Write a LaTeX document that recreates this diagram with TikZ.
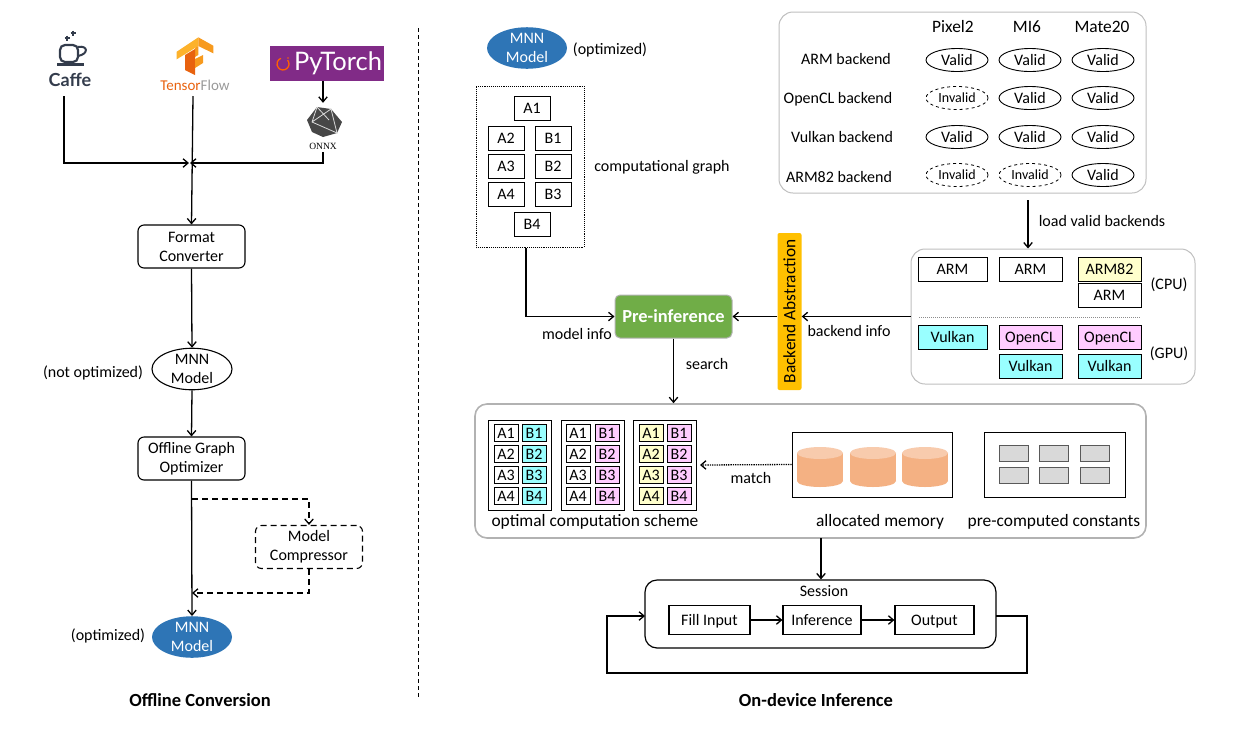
\documentclass[tikz,border=0pt]{standalone}
\usepackage{fontspec}
\usepackage{xcolor}
\setmainfont{Carlito}
\newfontfamily\logofont{Lato}
\newfontfamily\onnxfont{Liberation Serif}
\usetikzlibrary{arrows.meta,shapes.geometric}

\definecolor{cyanbox}{HTML}{99FFFF}
\definecolor{pinkbox}{HTML}{FFCCFF}
\definecolor{yellowbox}{HTML}{FFFFCC}
\definecolor{modelblue}{HTML}{2E75B6}
\definecolor{stepgreen}{HTML}{70AD47}
\definecolor{abstractgold}{HTML}{FFC000}
\definecolor{memorybody}{HTML}{F4B183}
\definecolor{memorytop}{HTML}{F8CBAD}
\definecolor{torchpurple}{HTML}{812B87}
\definecolor{caffeink}{HTML}{333C4C}
\definecolor{tflight}{HTML}{FDB22B}
\definecolor{tfmid}{HTML}{F79A1E}
\definecolor{tfdark}{HTML}{E8620F}

\tikzset{
  >={Straight Barb[length=5pt,width=8.5pt]},
  arrow/.style={->,line width=1.3pt},
  dashline/.style={dash pattern=on 6pt off 4pt},
  label/.style={font=\fontsize{16}{19}\selectfont,inner sep=0pt,text height=10pt,text depth=0pt},
  multiline/.style={font=\fontsize{16}{19}\selectfont,align=center,inner sep=0pt,execute at begin node={\rule{0pt}{13pt}}},
  biglabel/.style={font=\fontsize{17.4}{19}\selectfont,inner sep=0pt,text height=11pt,text depth=0pt},
  titlelabel/.style={font=\fontsize{18.5}{20}\selectfont\bfseries,inner sep=0pt,text height=12pt,text depth=0pt},
  stepbox/.style={draw,line width=1.1pt,rounded corners=6pt,fill=white,minimum width=107pt,minimum height=43pt,multiline},
  modeloval/.style={ellipse,minimum width=80pt,minimum height=40pt,multiline},
  optoval/.style={modeloval,fill=modelblue,text=white},
  opbox/.style={draw,line width=0.9pt,fill=white,minimum width=36pt,minimum height=24pt,label},
  backendbox/.style={draw,line width=0.9pt,fill=white,minimum width=63pt,minimum height=24pt,label},
  validoval/.style={draw,ellipse,line width=0.9pt,minimum width=62pt,minimum height=23pt,label},
  invalidoval/.style={draw,ellipse,dashed,line width=0.8pt,inner sep=0pt,minimum width=62pt,minimum height=23pt,font=\fontsize{14}{15}\selectfont,text height=9pt,text depth=0pt},
  schemebox/.style={draw,line width=0.9pt,fill=white,minimum width=63pt,minimum height=90pt},
  cellbox/.style={draw,line width=0.9pt,fill=white,minimum width=24pt,minimum height=17pt,label},
  groupbox/.style={draw=black!25,line width=1pt,rounded corners=14pt,fill=white},
  constbox/.style={draw=black!65,line width=0.9pt,fill=black!15,minimum width=29pt,minimum height=16pt},
  runbox/.style={draw,line width=1.2pt,minimum height=29pt,label}
}

\begin{document}
\begin{tikzpicture}[x=1pt,y=-1pt]
\useasboundingbox (0,0) rectangle (1239,732);

% offline side
\draw[caffeink,line width=2.2pt,rounded corners=5pt] (60,45) -- (60,62) -- (78,62) -- (78,45) -- cycle;
\draw[caffeink,line width=2pt] (78,47) .. controls (88,45) and (89,54) .. (78,56);
\draw[caffeink,line width=2.2pt] (57,64.5) -- (84,64.5);
\draw[caffeink,line width=1.5pt] (64.5,38) -- (69.5,38) (67,35.5) -- (67,40.5);
\draw[caffeink,line width=1.5pt] (70.5,33) -- (75.5,33) (73,30.5) -- (73,35.5);
\node[inner sep=0pt,text=caffeink,font=\logofont\bfseries\fontsize{18}{20}\selectfont] (caffe) at (70,80) {Caffe};

\fill[tflight] (176.7,51.7) -- (198.3,37.3) -- (198.3,46) -- (176.7,59.3) -- cycle;
\fill[tfmid] (198.3,37.3) -- (213.3,45.7) -- (213.3,53.3) -- (198.3,46) -- cycle;
\fill[tfmid] (195,48) -- (198.3,46) -- (198.3,55) -- (195,57) -- cycle;
\fill[tfdark] (185,55) -- (195,49) -- (195,75) -- (185,70) -- cycle;
\fill[tfmid] (195,59) -- (203,55) -- (203,63) -- (195,68) -- cycle;
\node[inner sep=0pt,font=\fontsize{15}{16}\selectfont] (tensorflow) at (195,85) {\textcolor{tfdark}{Tensor}\textcolor{black!40}{Flow}};

\node[fill=torchpurple,minimum width=114pt,minimum height=35pt,inner sep=0pt] (pytorch) at (327,63.5) {};
\draw[orange!75!red,line width=1.3pt] (287.6,60.1) arc[start angle=-40,end angle=250,radius=6];
\fill[orange!75!red] (288,58) circle (0.8);
\node[text=white,inner sep=0pt,font=\logofont\fontsize{25.5}{29}\selectfont] (pytorchtext) at (338,63) {PyTorch};
\node[circle,inner sep=0pt,minimum size=36pt] (onnx) at (323,121) {};
\fill[black!72] (317,107) -- (331,109) -- (342,122) -- (337,133) -- (323,137) -- (312,132) -- (307,120) -- cycle;
\draw[black!15,line width=0.8pt] (317,107) -- (312,122) -- (337,133) -- (331,109) -- (312,122) (317,107) -- (329,120);
\node[inner sep=0pt,font=\onnxfont\fontsize{9.5}{10}\selectfont] (onnxtext) at (323,146) {ONNX};

\coordinate (merge) at (192,163);
\coordinate (caffeend) at (64,96);
\coordinate (tfend) at (193,96);
\coordinate (onnxend) at (323,152);
\node[stepbox] (format) at (191.5,246.5) {Format\\Converter};
\draw[line width=1.3pt,shorten >=3pt,->] (caffeend) |- (merge);
\draw[line width=1.3pt,shorten >=-2pt,->] (onnxend) |- (merge);
\draw[arrow] (tfend) -- (format.north);
\draw[arrow] (pytorch.south -| onnx) -- (onnx.north);

\node[modeloval,draw,line width=1.1pt] (rawmodel) at (192,369) {MNN\\Model};
\node[label] (rawlabel) at (93,372) {(not optimized)};
\node[stepbox] (optimizer) at (191.5,458.5) {Offline Graph\\Optimizer};
\node[stepbox,dashline] (compressor) at (309,547) {Model\\Compressor};
\node[optoval] (optmodel) at (192,637) {MNN\\Model};
\node[label] (optlabel) at (108,635) {(optimized)};
\coordinate (dashout) at (192,499);
\coordinate (dashin) at (192,593);
\draw[arrow] (format.south) -- (rawmodel.north);
\draw[arrow] (rawmodel.south) -- (optimizer.north);
\draw[arrow] (optimizer.south) -- (optmodel.north);
\draw[arrow,dashline] (dashout) -| (compressor.north);
\draw[arrow,dashline] (compressor.south) |- (dashin);
\node[titlelabel] (offlinetitle) at (200,700) {Offline Conversion};

\coordinate (dividertop) at (418,28);
\coordinate (dividerend) at (418,697);
\draw[dash pattern=on 4pt off 3pt,line width=0.9pt] (dividertop) -- (dividerend);

% model and graph
\node[optoval] (topmodel) at (527,48) {MNN\\Model};
\node[label] (toplabel) at (610,49) {(optimized)};
\node[draw,densely dotted,line width=0.9pt,minimum width=108pt,minimum height=161pt] (graph) at (530,166.5) {};
\node[opbox] (a1) at (532,108) {A1};
\node[opbox] (a2) at (506,138) {A2};
\node[opbox] (b1) at (553,138) {B1};
\node[opbox] (a3) at (506,166) {A3};
\node[opbox] (b2) at (553,166) {B2};
\node[opbox] (a4) at (506,194) {A4};
\node[opbox] (b3) at (553,194) {B3};
\node[opbox] (b4) at (532,224) {B4};
\node[label] (graphlabel) at (662,166) {computational graph};

\node[draw=black!30,line width=1pt,fill=stepgreen,rounded corners=5pt,minimum width=117pt,minimum height=43pt,text=white,font=\fontsize{18.4}{20}\selectfont\bfseries] (preinf) at (673.5,316.5) {Pre-inference};
\coordinate (graphend) at (526,248);
\draw[arrow] (graphend) |- (preinf.west);
\node[label] (modelinfo) at (577,334) {model info};
\node[rotate=90,fill=abstractgold,rounded corners=2pt,minimum width=157pt,minimum height=24pt,inner sep=0pt,font=\fontsize{17.3}{18}\selectfont] (abstraction) at (789.5,311.5) {Backend Abstraction};

% device table
\node[groupbox,minimum width=367pt,minimum height=181pt] (devices) at (962.5,102.5) {};
\node[biglabel] (pixel) at (953,27) {Pixel2};
\node[biglabel] (mi) at (1027,27) {MI6};
\node[biglabel] (mate) at (1102,27) {Mate20};
\node[label] (armrow) at (846,59) {ARM backend};
\node[label] (openclrow) at (838,98) {OpenCL backend};
\node[label] (vulkanrow) at (842,137) {Vulkan backend};
\node[label] (arm82row) at (839,177) {ARM82 backend};
\node[validoval] (v11) at (957,60) {Valid};
\node[validoval] (v12) at (1030,60) {Valid};
\node[validoval] (v13) at (1103,60) {Valid};
\node[invalidoval] (v21) at (957,98) {Invalid};
\node[validoval] (v22) at (1030,98) {Valid};
\node[validoval] (v23) at (1103,98) {Valid};
\node[validoval] (v31) at (957,137) {Valid};
\node[validoval] (v32) at (1030,137) {Valid};
\node[validoval] (v33) at (1103,137) {Valid};
\node[invalidoval] (v41) at (957,175) {Invalid};
\node[invalidoval] (v42) at (1030,175) {Invalid};
\node[validoval] (v43) at (1103,175) {Valid};

% loaded backends
\node[groupbox,minimum width=284pt,minimum height=135pt] (backends) at (1053,316.5) {};
\coordinate (loadstart) at (1028,200);
\draw[arrow] (loadstart) -- (loadstart |- backends.north);
\node[label] (loadlabel) at (1102,221) {load valid backends};
\node[backendbox,minimum width=69pt] (c1) at (952.5,269) {ARM};
\node[backendbox] (c2) at (1030.5,269) {ARM};
\node[backendbox,fill=yellowbox] (c3) at (1109.5,269) {ARM82};
\node[backendbox] (c4) at (1109.5,295) {ARM};
\coordinate (splitleft) at (919,317);
\coordinate (splitright) at (1141,317);
\draw[black!45,densely dotted,line width=1pt] (splitleft) -- (splitright);
\node[backendbox,minimum width=69pt,fill=cyanbox] (g1) at (952.5,337) {Vulkan};
\node[backendbox,fill=pinkbox] (g2) at (1030.5,337) {OpenCL};
\node[backendbox,fill=cyanbox] (g3) at (1030.5,366) {Vulkan};
\node[backendbox,fill=pinkbox] (g4) at (1109.5,337) {OpenCL};
\node[backendbox,fill=cyanbox] (g5) at (1109.5,366) {Vulkan};
\node[label] (cpulabel) at (1169,284) {(CPU)};
\node[label] (gpulabel) at (1169,353) {(GPU)};
\draw[arrow] (backends.west) -- (abstraction.south |- backends.west);
\draw[arrow] (abstraction.north |- preinf.east) -- (preinf.east);
\node[label] (backendinfo) at (849,331) {backend info};

% runtime group
\node[draw=black!30,line width=1.6pt,rounded corners=12pt,fill=white,minimum width=671pt,minimum height=134pt] (runtime) at (810.5,471) {};
\draw[arrow] (preinf.south) -- (preinf.south |- runtime.north);
\node[label] (searchlabel) at (707,364) {search};
\node[schemebox] (s1) at (520,465) {};
\node[schemebox] (s2) at (592.5,465) {};
\node[schemebox] (s3) at (665,465) {};
\foreach \r/\y in {1/433,2/454,3/475,4/496} {
  \node[cellbox] (s1a\r) at (506,\y) {A\r};
  \node[cellbox,fill=cyanbox] (s1b\r) at (534,\y) {B\r};
  \node[cellbox] (s2a\r) at (578,\y) {A\r};
  \node[cellbox,fill=pinkbox] (s2b\r) at (607,\y) {B\r};
  \node[cellbox,fill=yellowbox] (s3a\r) at (651,\y) {A\r};
  \node[cellbox,fill=pinkbox] (s3b\r) at (679,\y) {B\r};
}
\node[biglabel] (schemelabel) at (595,521) {optimal computation scheme};
\node[draw,line width=0.9pt,fill=white,minimum width=160pt,minimum height=65pt] (memory) at (872,464.5) {};
\foreach \x in {820,873,925} {
  \fill[memorybody] (\x-23,453) rectangle (\x+23,481);
  \fill[memorybody] (\x,481) ellipse (23 and 6);
  \fill[memorytop] (\x,453) ellipse (23 and 6);
}
\draw[arrow,densely dotted] (memory.west) -- (s3.east -| 700,0);
\node[label] (matchlabel) at (751,478) {match};
\node[biglabel] (memorylabel) at (880,521) {allocated memory};
\node[draw,line width=0.9pt,fill=white,minimum width=141pt,minimum height=65pt] (constants) at (1054.5,464.5) {};
\foreach \i/\x in {1/1014,2/1054,3/1095} {
  \node[constbox] (ctop\i) at (\x,453.5) {};
  \node[constbox] (cbot\i) at (\x,475) {};
}
\node[biglabel] (constlabel) at (1054,521) {pre-computed constants};

% session
\node[draw,line width=1.2pt,rounded corners=12pt,minimum width=351pt,minimum height=68pt] (session) at (820.5,614) {};
\coordinate (sessionin) at (821,538);
\draw[arrow] (sessionin) -- (sessionin |- session.north);
\node[label] (sessionlabel) at (824,591) {Session};
\node[runbox,minimum width=81pt] (fillinput) at (709.5,620) {Fill Input};
\node[runbox,minimum width=78pt] (inference) at (822,620) {Inference};
\node[runbox,minimum width=79pt] (output) at (934.5,620) {Output};
\draw[arrow] (fillinput) -- (inference);
\draw[arrow] (inference) -- (output);
\coordinate (loopout) at (996,616);
\coordinate (loopin) at (645,616);
\coordinate (loopright) at (1027,673);
\coordinate (loopleft) at (607,673);
\draw[arrow] (loopout) -| (loopright) -- (loopleft) |- (loopin);
\node[titlelabel] (ondevicetitle) at (816,700) {On-device Inference};

\end{tikzpicture}
\end{document}
